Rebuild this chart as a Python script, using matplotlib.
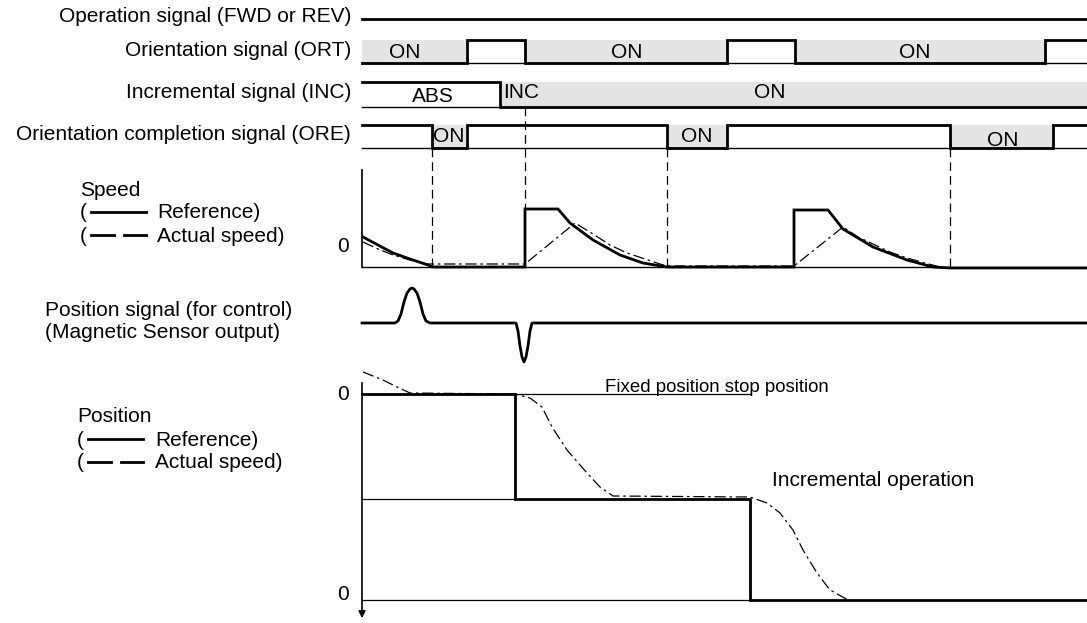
import numpy as np
import matplotlib.pyplot as plt

plt.rcParams['font.family'] = ['Liberation Sans', 'DejaVu Sans']

# ---- data (time axis in drawing columns, levels in drawing rows) ----
t_start = 362
t_end = 1087

# on/off signals: list of switching times, first state
ort_edges = [467, 525, 727, 795, 1045]
ort_first_on = True
inc_edges = [500]
inc_first_on = False
ore_edges = [432, 467, 667, 727, 950, 1053]
ore_first_on = False

# row geometry: (top, bottom)
ort_row = (40, 63)
inc_row = (82, 107)
ore_row = (125, 148)
op_y = 19

# speed reference (thick) and actual (dash-dot)
spd_zero = 267
spd_ref_x = [363, 378, 393, 410, 428, 433, 525, 525, 558, 570, 593, 620, 643, 667,
             794, 794, 828, 843, 873, 907, 933, 950, 1087]
spd_ref_y = [237, 245, 253, 259, 265, 267, 267, 209, 209, 223, 240, 255, 263, 267,
             267, 210, 210, 229, 247, 260, 267, 268, 268]
spd_act_x = [363, 378, 393, 410, 427, 433, 525, 575, 593, 610, 627, 645, 660, 667,
             794, 843, 858, 873, 890, 907, 925, 940]
spd_act_y = [242, 249, 255, 260, 264, 264, 264, 223, 234, 245, 253, 259, 264, 266,
             266, 227, 237, 244, 252, 258, 263, 267]

# magnetic sensor output
sens_x = [362, 395, 398, 401, 404, 407, 410, 412, 414, 417, 420, 423, 426, 430,
          516, 518, 520, 522, 524, 526, 528, 530, 532, 1087]
sens_y = [323, 323, 321, 314, 302, 293, 289, 288, 289, 293, 302, 314, 321, 323,
          323, 331, 346, 357, 362, 357, 346, 331, 323, 323]

# position reference and actual
pos_levels = [394, 499, 600]
pos_ref_x = [362, 515, 515, 750, 750, 1087]
pos_ref_y = [394, 394, 499, 499, 600, 600]
pos_act_x = [363, 373, 383, 397, 410, 515, 530, 542, 552, 567, 587, 600, 613, 750,
             767, 780, 793, 803, 817, 830, 848]
pos_act_y = [372, 376, 380, 387, 393, 394, 398, 407, 427, 450, 473, 487, 496, 497,
             503, 513, 530, 550, 573, 590, 600]

# guide lines (x, y_from, y_to)
guides = [(432, 148, 266), (525, 107, 209), (667, 148, 266), (950, 148, 268)]

left_labels = [("Operation signal (FWD or REV)", op_y - 2),
               ("Orientation signal (ORT)", 50),
               ("Incremental signal (INC)", 93),
               ("Orientation completion signal (ORE)", 134)]

fig = plt.figure(figsize=(10.87, 6.23), dpi=100)
ax = fig.add_axes([0, 0, 1, 1])
ax.set_xlim(0, 1087)
ax.set_ylim(623, 0)
ax.axis('off')

FS = 15
GRAY = '#e4e4e4'
LW = 2.0


def draw_signal(edges, first_on, row):
    top, bot = row
    xs = [t_start] + edges + [t_end]
    on = first_on
    tx, ty = [], []
    for a, b in zip(xs[:-1], xs[1:]):
        lvl = bot if on else top
        if on:
            ax.fill_between([a, b], top, bot, color=GRAY, lw=0, zorder=1)
        tx += [a, b]
        ty += [lvl, lvl]
        on = not on
    ax.plot([t_start, t_end], [bot, bot], color='k', lw=1.0, zorder=2)
    ax.plot(tx, ty, color='k', lw=LW, zorder=3, solid_joinstyle='miter')


ax.plot([t_start, t_end], [op_y, op_y], color='k', lw=LW)
draw_signal(ort_edges, ort_first_on, ort_row)
draw_signal(inc_edges, inc_first_on, inc_row)
draw_signal(ore_edges, ore_first_on, ore_row)

for s, y in left_labels:
    ax.text(351, y, s, ha='right', va='center', fontsize=FS)

# texts inside signal rows
ax.text(405, 52, "ON", ha='center', va='center', fontsize=FS)
ax.text(627, 52, "ON", ha='center', va='center', fontsize=FS)
ax.text(915, 52, "ON", ha='center', va='center', fontsize=FS)
ax.text(433, 97, "ABS", ha='center', va='center', fontsize=FS)
ax.text(503, 93, "INC", ha='left', va='center', fontsize=FS)
ax.text(770, 93, "ON", ha='center', va='center', fontsize=FS)
ax.text(433, 137, "ON", ha='left', va='center', fontsize=FS)
ax.text(697, 137, "ON", ha='center', va='center', fontsize=FS)
ax.text(1003, 140, "ON", ha='center', va='center', fontsize=FS)

for x, y0, y1 in guides:
    ax.plot([x, x], [y0, y1], color='k', lw=0.9, ls=(0, (7, 4)), zorder=1)

# speed panel
ax.plot([t_start, t_start], [170, spd_zero], color='k', lw=1.2)
ax.plot([t_start, t_end], [spd_zero, spd_zero], color='k', lw=1.0)
ax.plot(spd_ref_x, spd_ref_y, color='k', lw=LW, solid_joinstyle='miter')
ax.plot(spd_act_x, spd_act_y, color='k', lw=0.9, ls=(0, (9, 3, 2, 3)))
ax.text(343, 247, "0", ha='center', va='center', fontsize=FS)

ax.text(80, 190, "Speed", ha='left', va='center', fontsize=FS)
ax.text(80, 213, "(", ha='left', va='center', fontsize=FS)
ax.plot([91, 146], [212, 212], color='k', lw=2.0)
ax.text(157, 213, "Reference)", ha='left', va='center', fontsize=FS)
ax.text(80, 236, "(", ha='left', va='center', fontsize=FS)
ax.plot([91, 114], [235, 235], color='k', lw=2.0)
ax.plot([124, 146], [235, 235], color='k', lw=2.0)
ax.text(157, 236, "Actual speed)", ha='left', va='center', fontsize=FS)

# sensor panel
ax.plot(sens_x, sens_y, color='k', lw=LW)
ax.text(45, 311, "Position signal (for control)", ha='left', va='center', fontsize=FS)
ax.text(45, 333, "(Magnetic Sensor output)", ha='left', va='center', fontsize=FS)

# position panel
ax.annotate("", xy=(t_start, 621), xytext=(t_start, 380),
            arrowprops=dict(arrowstyle='-|>', color='k', lw=1.2, mutation_scale=10))
ax.plot([t_start, 750], [pos_levels[0], pos_levels[0]], color='k', lw=0.9)
ax.plot([t_start, 515], [pos_levels[1], pos_levels[1]], color='k', lw=0.9)
ax.plot([t_start, 750], [pos_levels[2], pos_levels[2]], color='k', lw=0.9)
ax.plot(pos_ref_x, pos_ref_y, color='k', lw=LW, solid_joinstyle='miter')
ax.plot(pos_act_x, pos_act_y, color='k', lw=0.9, ls=(0, (9, 3, 2, 3)))
ax.text(343, 394, "0", ha='center', va='center', fontsize=FS)
ax.text(343, 595, "0", ha='center', va='center', fontsize=FS)
ax.text(605, 388, "Fixed position stop position", ha='left', va='center', fontsize=13.4)
ax.text(772, 480, "Incremental operation", ha='left', va='center', fontsize=FS)

ax.text(77, 416, "Position", ha='left', va='center', fontsize=FS)
ax.text(77, 440, "(", ha='left', va='center', fontsize=FS)
ax.plot([88, 143], [439, 439], color='k', lw=2.0)
ax.text(155, 440, "Reference)", ha='left', va='center', fontsize=FS)
ax.text(77, 463, "(", ha='left', va='center', fontsize=FS)
ax.plot([88, 111], [462, 462], color='k', lw=2.0)
ax.plot([121, 143], [462, 462], color='k', lw=2.0)
ax.text(155, 463, "Actual speed)", ha='left', va='center', fontsize=FS)

fig.savefig("out.png", dpi=100)
